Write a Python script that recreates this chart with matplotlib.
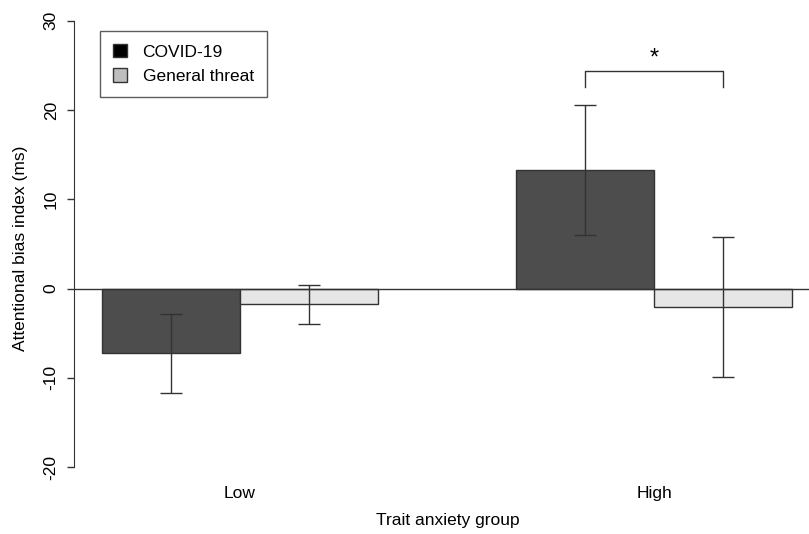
import matplotlib.pyplot as plt
from matplotlib.patches import Patch

plt.rcParams['font.family'] = ['Liberation Sans', 'DejaVu Sans']

groups = ['Low', 'High']
series = ['COVID-19', 'General threat']
means = {'COVID-19': [-7.26, 13.27], 'General threat': [-1.77, -2.1]}
err_low = {'COVID-19': [-11.74, 5.99], 'General threat': [-4.0, -9.93]}
err_high = {'COVID-19': [-2.89, 20.55], 'General threat': [0.43, 5.8]}
bar_colors = {'COVID-19': '#4d4d4d', 'General threat': '#e6e6e6'}
legend_colors = {'COVID-19': '#000000', 'General threat': '#bebebe'}

fig = plt.figure(figsize=(8.09, 5.34), dpi=100)
ax = fig.add_axes([74 / 809, 1 - 485 / 534, (820 - 74) / 809, (485 - 2.7) / 534])

# R-style barplot: width 1, one bar gap between groups
for gi, g in enumerate(groups):
    for si, s in enumerate(series):
        left = 1 + gi * 3 + si
        ax.bar(left, means[s][gi], width=1, align='edge',
               color=bar_colors[s], edgecolor='#333333', linewidth=1)
        xc = left + 0.5
        ax.errorbar(xc, means[s][gi],
                    yerr=[[means[s][gi] - err_low[s][gi]], [err_high[s][gi] - means[s][gi]]],
                    fmt='none', ecolor='#333333', elinewidth=1, capsize=8, capthick=1)

ax.axhline(0, color='#333333', lw=1, zorder=3)

# significance bracket
ax.plot([4.5, 4.5, 5.5, 5.5], [22.6, 24.4, 24.4, 22.6], color='#333333', lw=1)
ax.text(5.0, 25.8, '*', ha='center', va='center', fontsize=17)

ax.set_xlim(0.8, 6.2)
ax.set_ylim(-22, 32)
ax.set_yticks([-20, -10, 0, 10, 20, 30])
ax.set_yticklabels(['-20', '-10', '0', '10', '20', '30'], rotation=90, va='center')
ax.set_xticks([2, 5])
ax.set_xticklabels(groups)
ax.tick_params(axis='x', length=0, pad=1, labelsize=12.5)
ax.tick_params(axis='y', length=5, width=1, color='#333333', pad=6, labelsize=12.5)
for sp in ['top', 'right', 'bottom']:
    ax.spines[sp].set_visible(False)
ax.spines['left'].set_bounds(-20, 30)
ax.spines['left'].set_color('#333333')

fig.text(448 / 809, 1 - 521 / 534, 'Trait anxiety group', ha='center', va='center', fontsize=12.5)
fig.text(21 / 809, 1 - 248 / 534, 'Attentional bias index (ms)', ha='center', va='center',
         rotation=90, fontsize=12.5)

handles = [Patch(facecolor=legend_colors[s], edgecolor='#333333') for s in series]
leg = fig.legend(handles, series, loc='upper left',
                 bbox_to_anchor=(100 / 809, 1 - 31 / 534), borderaxespad=0,
                 fancybox=False, edgecolor='#333333', fontsize=12.5,
                 handlelength=0.8, handleheight=0.8, handletextpad=0.9,
                 borderpad=0.75, labelspacing=0.5)
leg.get_frame().set_linewidth(1)

fig.savefig('out.png', dpi=100)
